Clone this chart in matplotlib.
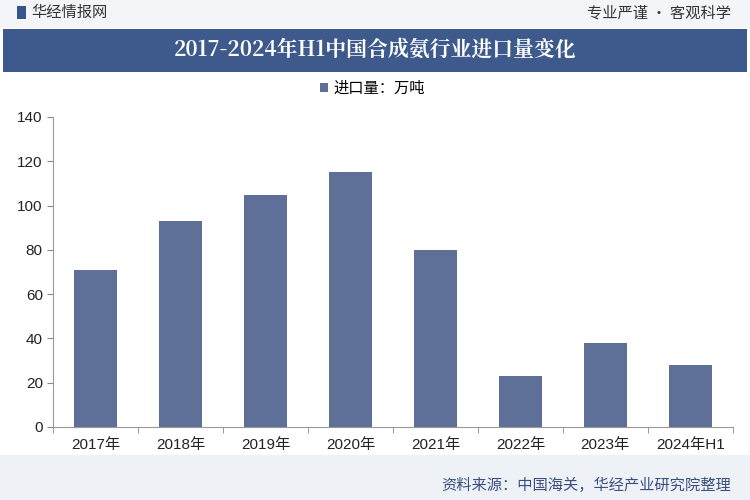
import matplotlib.pyplot as plt
from matplotlib.patches import Rectangle

plt.rcParams['font.family'] = ['Noto Sans CJK SC', 'DejaVu Sans']

YEARS = ["2017年", "2018年", "2019年", "2020年", "2021年", "2022年", "2023年", "2024年H1"]
IMPORTS = [71, 93, 105, 115, 80, 23, 38, 28]

TITLE = "2017-2024年H1中国合成氨行业进口量变化"
BAR_COLOR = "#5e6f98"
BAND_COLOR = "#3e5a8c"


def plot_imports():
    fig = plt.figure(figsize=(7.5, 5), dpi=100)
    fig.patch.set_facecolor("white")

    # header strip, title band and footer strip
    fig.patches.append(Rectangle((0, 0.944), 1, 0.056, transform=fig.transFigure,
                                 facecolor="#f3f5f8", edgecolor="none", zorder=0))
    fig.patches.append(Rectangle((0.004, 0.856), 0.992, 0.086, transform=fig.transFigure,
                                 facecolor=BAND_COLOR, edgecolor="none", zorder=1))
    fig.patches.append(Rectangle((0, 0), 1, 0.09, transform=fig.transFigure,
                                 facecolor="#eef1f6", edgecolor="none", zorder=0))
    fig.patches.append(Rectangle((0.022, 0.962), 0.012, 0.026, transform=fig.transFigure,
                                 facecolor="#34558b", edgecolor="none", zorder=2))

    fig.text(0.042, 0.975, "华经情报网", fontsize=11, color="#333333", va="center")
    fig.text(0.975, 0.975, "专业严谨 • 客观科学", fontsize=11, color="#333333",
             va="center", ha="right")
    fig.text(0.5, 0.899, TITLE, fontsize=15, color="white", fontweight="bold",
             ha="center", va="center", family=["Noto Serif CJK SC", "Noto Sans CJK SC", "DejaVu Sans"])
    fig.text(0.975, 0.03, "资料来源：中国海关，华经产业研究院整理", fontsize=11,
             color="#3a4f80", ha="right", va="center")

    ax = fig.add_axes([0.071, 0.146, 0.906, 0.62])
    ax.bar(range(len(YEARS)), IMPORTS, width=0.5, color=BAR_COLOR, label="进口量：万吨", zorder=3)
    ax.set_xlim(-0.5, len(YEARS) - 0.5)
    ax.set_ylim(0, 140)
    ax.set_yticks(range(0, 141, 20))
    ax.set_xticks(range(len(YEARS)))
    ax.set_xticklabels(YEARS)
    ax.set_xticks([i + 0.5 for i in range(-1, len(YEARS))], minor=True)
    ax.tick_params(axis="x", which="major", length=0, labelsize=11, pad=8, colors="#222222")
    ax.tick_params(axis="x", which="minor", length=4, color="#888888")
    ax.tick_params(axis="y", length=4, color="#888888", labelsize=11, colors="#222222")
    for lbl in ax.get_xticklabels() + ax.get_yticklabels():
        lbl.set_family(["Liberation Sans", "Noto Sans CJK SC"])
    for side in ["top", "right"]:
        ax.spines[side].set_visible(False)
    ax.spines["left"].set_color("#999999")
    ax.spines["bottom"].set_color("#999999")
    ax.legend(loc="lower center", bbox_to_anchor=(0.47, 1.02), frameon=False,
              fontsize=11, handlelength=0.5, handleheight=0.5, handletextpad=0.4)

    fig.savefig("out.png", dpi=100)


if __name__ == "__main__":
    plot_imports()
